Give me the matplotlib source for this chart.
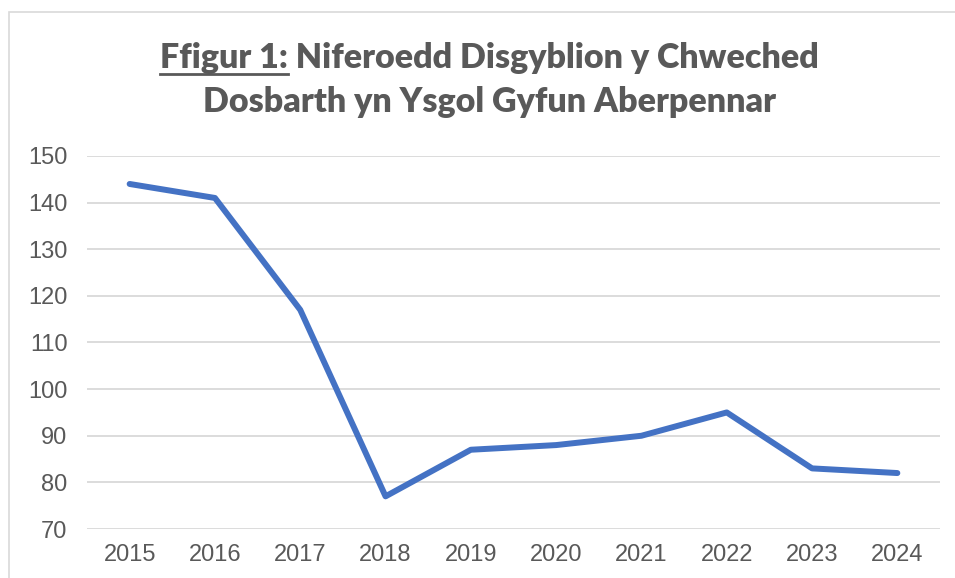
import matplotlib
matplotlib.use("Agg")
import matplotlib.pyplot as plt
from matplotlib.patches import Rectangle
from matplotlib.lines import Line2D

# data
years = ["2015", "2016", "2017", "2018", "2019", "2020", "2021", "2022", "2023", "2024"]
pupils = [144, 141, 117, 77, 87, 88, 90, 95, 83, 82]
y_ticks = [70, 80, 90, 100, 110, 120, 130, 140, 150]

title_1a = "Ffigur 1:"
title_1 = "Ffigur 1: Niferoedd Disgyblion y Chweched"
title_2 = "Dosbarth yn Ysgol Gyfun Aberpennar"

grey_txt = "#595959"
grid_col = "#d9d9d9"
blue = "#4472C4"

W, H = 955, 578
fig = plt.figure(figsize=(W / 100, H / 100), dpi=100)
fig.patch.set_facecolor("white")

# chart frame (only left and top edges are visible in the crop)
fig.patches.append(Rectangle((9 / W, -0.1), 1.2, 1.1 - 12 / H, transform=fig.transFigure,
                             fill=False, edgecolor=grid_col, linewidth=1.2))

ax = fig.add_axes([87 / W, 1 - 529 / H, (940 - 87) / W, (529 - 156) / H])
x = list(range(len(years)))
ax.plot(x, pupils, color=blue, linewidth=4.3, solid_capstyle="round", solid_joinstyle="round", zorder=3)

ax.set_xlim(-0.5, len(years) - 0.5)
ax.set_ylim(70, 150)
ax.set_yticks(y_ticks)
ax.set_xticks(x)
ax.set_xticklabels(years)
ax.grid(axis="y", color=grid_col, linewidth=1.3)
ax.set_axisbelow(True)
for s in ax.spines.values():
    s.set_visible(False)
ax.tick_params(axis="both", length=0, labelsize=17, labelcolor=grey_txt)
ax.tick_params(axis="y", pad=14)
ax.tick_params(axis="x", pad=11)
for lab in ax.get_xticklabels() + ax.get_yticklabels():
    lab.set_fontfamily("Liberation Sans")

# title, two lines, first part underlined
tkw = dict(ha="center", va="baseline", fontsize=24.5, fontweight="heavy", color=grey_txt,
           family=["Lato", "DejaVu Sans"])
cx = 489 / W
t1 = fig.text(cx, 1 - 68 / H, title_1, **tkw)
t2 = fig.text(cx, 1 - 112 / H, title_2, **tkw)

fig.canvas.draw()
r = fig.canvas.get_renderer()
bb = t1.get_window_extent(r)
probe = fig.text(0, 0, title_1a, **{**tkw, "ha": "left"})
pw = probe.get_window_extent(r).width
probe.remove()
uy = 1 - 74 / H
fig.add_artist(Line2D([bb.x0 / W, (bb.x0 + pw) / W], [uy, uy], transform=fig.transFigure,
                      color=grey_txt, linewidth=2.0))

fig.savefig("out.png", dpi=100, facecolor="white")
